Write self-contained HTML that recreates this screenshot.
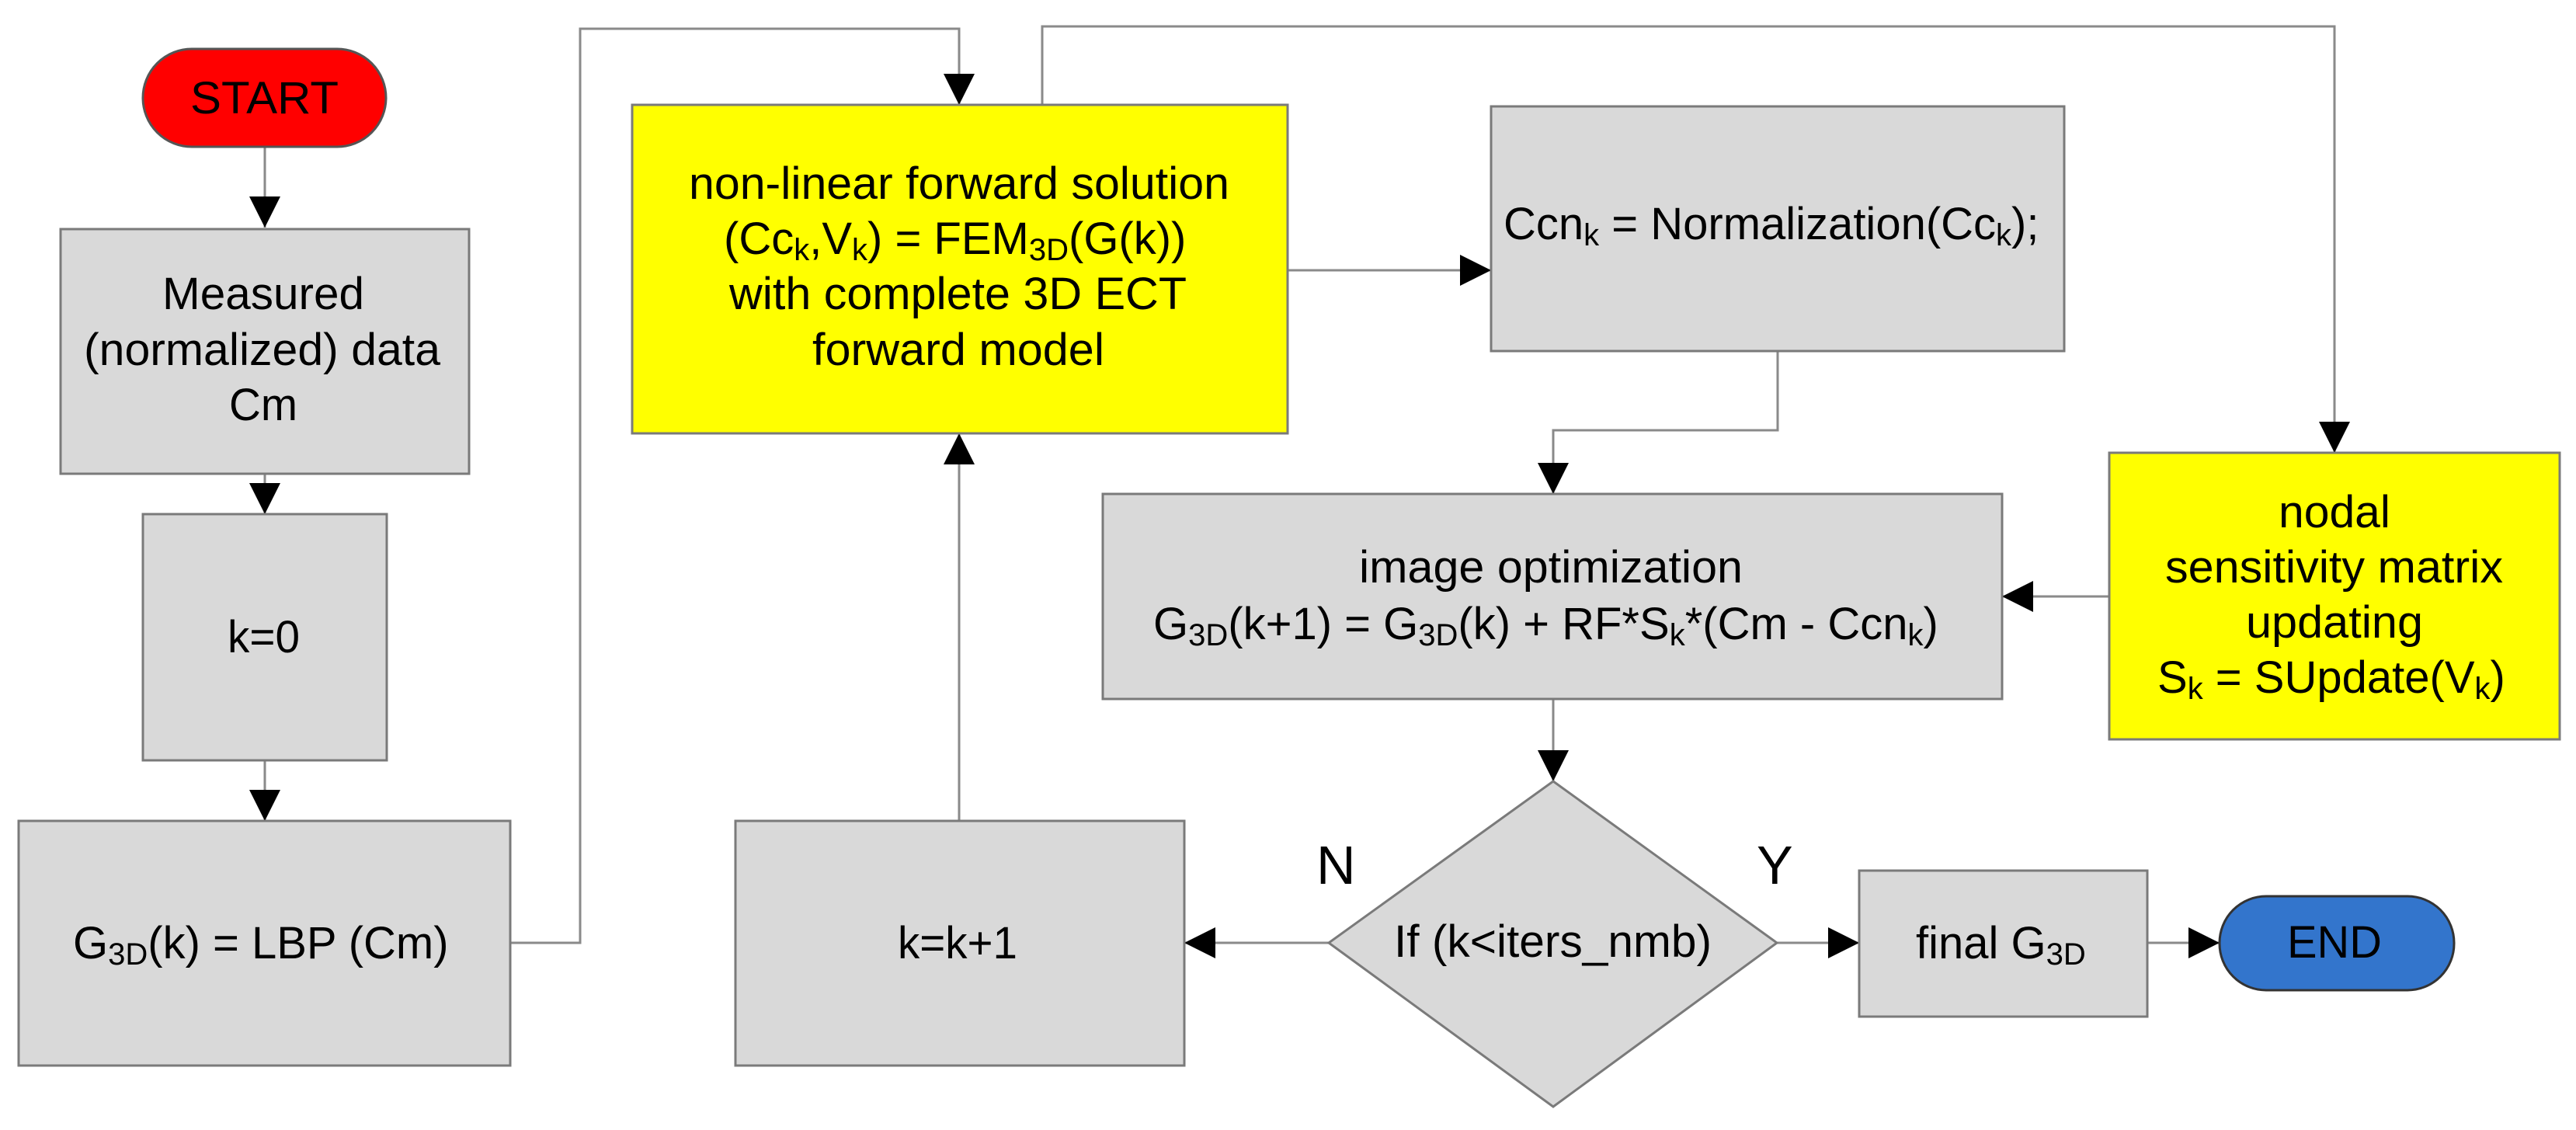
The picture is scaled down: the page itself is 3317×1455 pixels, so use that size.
<!DOCTYPE html>
<html><head><meta charset="utf-8"><style>
html,body{margin:0;padding:0;background:#fff;}
svg{display:block;}
text{font-family:"Liberation Sans",Arial,sans-serif;font-size:58px;fill:#000;}
.sub{font-size:40px;}
</style></head><body>
<svg width="3317" height="1455" viewBox="0 0 3317 1455" xmlns="http://www.w3.org/2000/svg">
<defs>
<marker id="a" markerWidth="40" markerHeight="40" refX="40" refY="20" orient="auto" markerUnits="userSpaceOnUse">
<path d="M0,0 L40,20 L0,40 Z" fill="#000"/>
</marker>
</defs>
<g fill="none" stroke="#8a8a8a" stroke-width="3">
<path d="M341,189 V293" marker-end="url(#a)"/>
<path d="M341,610 V662" marker-end="url(#a)"/>
<path d="M341,979 V1057" marker-end="url(#a)"/>
<path d="M657,1214 H747 V37 H1235 V135" marker-end="url(#a)"/>
<path d="M1342,135 V34 H3006 V583" marker-end="url(#a)"/>
<path d="M1658,348 H1920" marker-end="url(#a)"/>
<path d="M2289,452 V554 H2000 V636" marker-end="url(#a)"/>
<path d="M2716,768 H2578" marker-end="url(#a)"/>
<path d="M2000,900 V1006" marker-end="url(#a)"/>
<path d="M1711,1214 H1525" marker-end="url(#a)"/>
<path d="M1235,1057 V558" marker-end="url(#a)"/>
<path d="M2288,1214 H2394" marker-end="url(#a)"/>
<path d="M2765,1214 H2858" marker-end="url(#a)"/>
</g>
<g stroke="#7a7a7a" stroke-width="3">
<rect x="184" y="63" width="313" height="126" rx="63" fill="#ff0000" stroke="#555"/>
<rect x="78" y="295" width="526" height="315" fill="#d9d9d9"/>
<rect x="184" y="662" width="314" height="317" fill="#d9d9d9"/>
<rect x="24" y="1057" width="633" height="315" fill="#d9d9d9"/>
<rect x="814" y="135" width="844" height="423" fill="#ffff00"/>
<rect x="1920" y="137" width="738" height="315" fill="#d9d9d9"/>
<rect x="1420" y="636" width="1158" height="264" fill="#d9d9d9"/>
<rect x="2716" y="583" width="580" height="369" fill="#ffff00"/>
<rect x="947" y="1057" width="578" height="315" fill="#d9d9d9"/>
<polygon points="2000,1006 2288,1214 2000,1425 1711,1214" fill="#d9d9d9"/>
<rect x="2394" y="1121" width="371" height="188" fill="#d9d9d9"/>
<rect x="2858" y="1154" width="302" height="121" rx="60" fill="#3375cc" stroke="#333"/>
</g>
<g text-anchor="start">
<text x="245" y="146" textLength="191" lengthAdjust="spacingAndGlyphs">START</text>
<text x="209" y="398" textLength="260" lengthAdjust="spacingAndGlyphs">Measured</text>
<text x="108" y="470" textLength="459" lengthAdjust="spacingAndGlyphs">(normalized) data</text>
<text x="295" y="541" textLength="88" lengthAdjust="spacingAndGlyphs">Cm</text>
<text x="293" y="840" textLength="93" lengthAdjust="spacingAndGlyphs">k=0</text>
<text x="94" y="1234">G<tspan class="sub" dy="8">3D</tspan><tspan dy="-8">(k) = LBP (Cm)</tspan></text>
<text x="887" y="256" textLength="696" lengthAdjust="spacingAndGlyphs">non-linear forward solution</text>
<text x="932" y="327">(Cc<tspan class="sub" dy="8">k</tspan><tspan dy="-8">,V</tspan><tspan class="sub" dy="8">k</tspan><tspan dy="-8">) = FEM</tspan><tspan class="sub" dy="8">3D</tspan><tspan dy="-8">(G(k))</tspan></text>
<text x="939" y="398" textLength="589" lengthAdjust="spacingAndGlyphs">with complete 3D ECT</text>
<text x="1046" y="470" textLength="376" lengthAdjust="spacingAndGlyphs">forward model</text>
<text x="1936" y="308">Ccn<tspan class="sub" dy="8">k</tspan><tspan dy="-8"> = Normalization(Cc</tspan><tspan class="sub" dy="8">k</tspan><tspan dy="-8">);</tspan></text>
<text x="1750" y="750" textLength="494" lengthAdjust="spacingAndGlyphs">image optimization</text>
<text x="1485" y="823">G<tspan class="sub" dy="8">3D</tspan><tspan dy="-8">(k+1) = G</tspan><tspan class="sub" dy="8">3D</tspan><tspan dy="-8">(k) + RF*S</tspan><tspan class="sub" dy="8">k</tspan><tspan dy="-8">*(Cm - Ccn</tspan><tspan class="sub" dy="8">k</tspan><tspan dy="-8">)</tspan></text>
<text x="2934" y="679" textLength="144" lengthAdjust="spacingAndGlyphs">nodal</text>
<text x="2788" y="750" textLength="435" lengthAdjust="spacingAndGlyphs">sensitivity matrix</text>
<text x="2892" y="821" textLength="228" lengthAdjust="spacingAndGlyphs">updating</text>
<text x="2778" y="892">S<tspan class="sub" dy="8">k</tspan><tspan dy="-8"> = SUpdate(V</tspan><tspan class="sub" dy="8">k</tspan><tspan dy="-8">)</tspan></text>
<text x="1156" y="1234" textLength="154" lengthAdjust="spacingAndGlyphs">k=k+1</text>
<text x="1795" y="1232" textLength="409" lengthAdjust="spacingAndGlyphs">If (k&lt;iters_nmb)</text>
<text x="2467" y="1234">final G<tspan class="sub" dy="8">3D</tspan></text>
<text x="2945" y="1233" textLength="122" lengthAdjust="spacingAndGlyphs">END</text>
<text x="1695" y="1138" style="font-size:70px">N</text>
<text x="2262" y="1138" style="font-size:70px">Y</text>
</g>
</svg>
</body></html>
